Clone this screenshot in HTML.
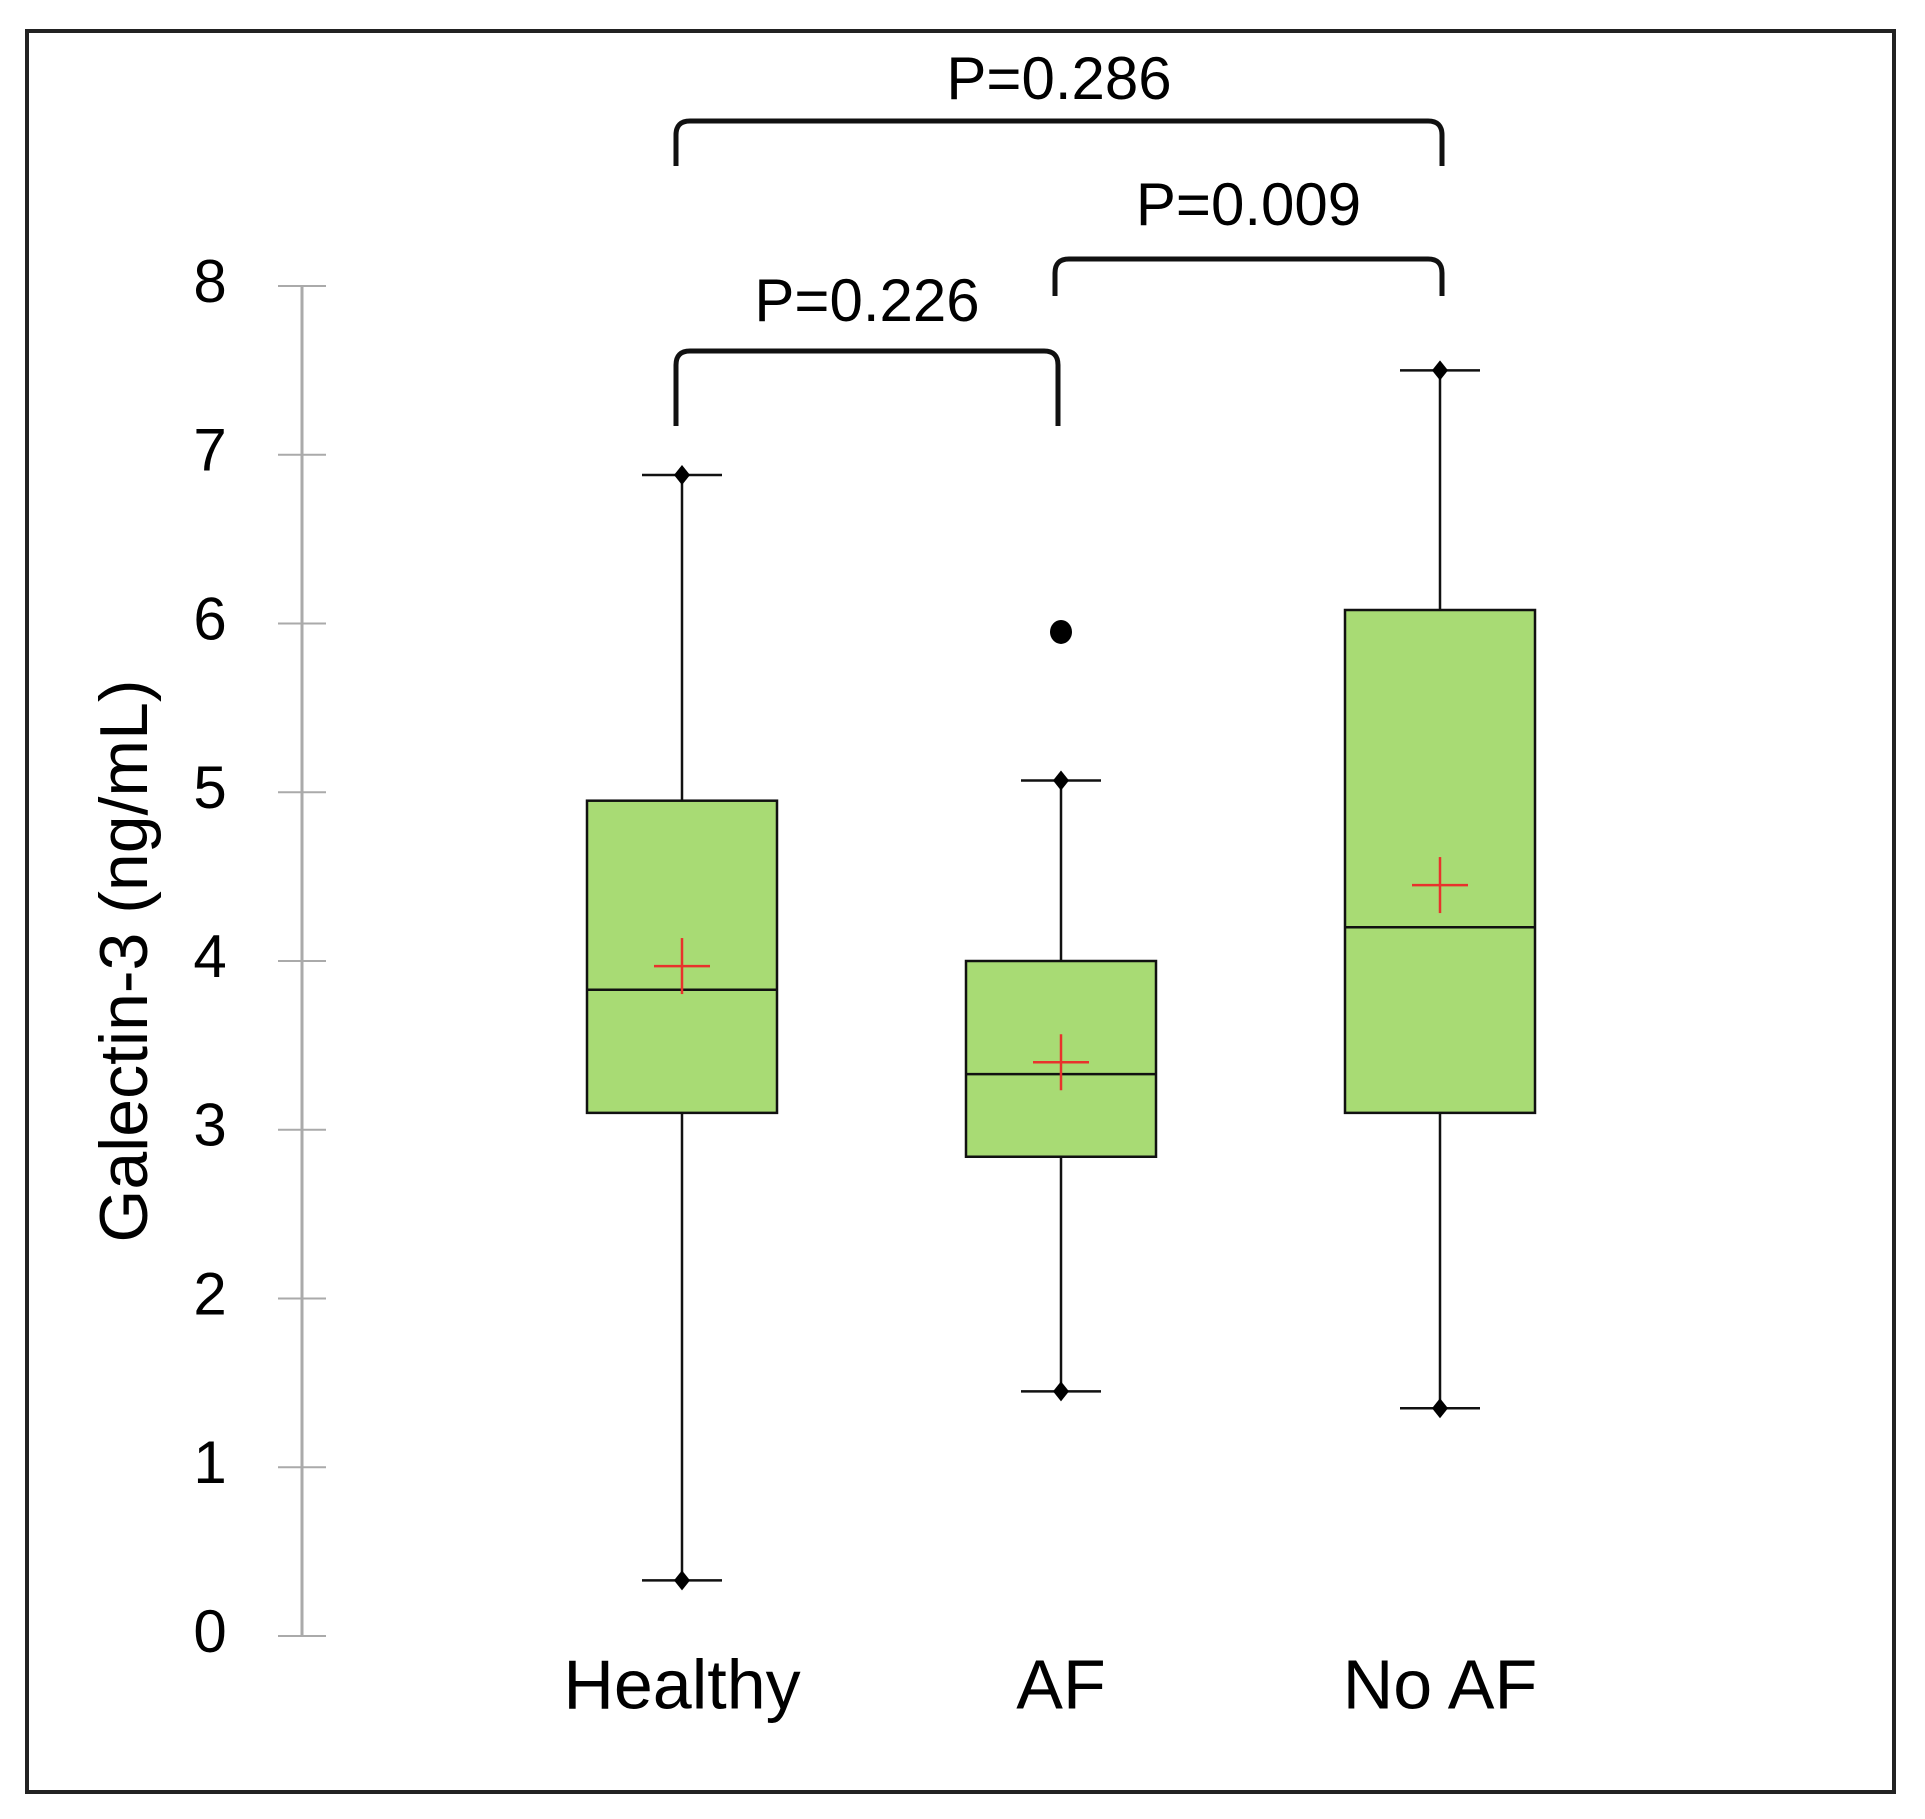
<!DOCTYPE html>
<html><head><meta charset="utf-8"><style>
html,body{margin:0;padding:0;background:#fff;}
svg{display:block;}
text{font-family:"Liberation Sans","DejaVu Sans",sans-serif;fill:#000;}
</style></head><body>
<svg id="chart" width="1925" height="1819" viewBox="0 0 1925 1819">
<rect x="27" y="31" width="1867" height="1761" fill="#fff" stroke="#222" stroke-width="4"/>
<g id="axis"></g>
<g id="boxes"></g>
<g id="brackets"></g>
<text x="129" y="961" font-size="68" text-anchor="middle" dominant-baseline="middle" transform="rotate(-90 129 961)">Galectin-3 (ng/mL)</text>
</svg>
<script>
const categories = ["Healthy", "AF", "No AF"];
const whiskerMax = [6.88, 5.07, 7.5];
const q3Values = [4.95, 4.0, 6.08];
const medians = [3.83, 3.33, 4.2];
const q1Values = [3.1, 2.84, 3.1];
const whiskerMin = [0.33, 1.45, 1.35];
const means = [3.97, 3.4, 4.45];
const outliers = [[], [5.95], []];
const yTicks = [0, 1, 2, 3, 4, 5, 6, 7, 8];
const pLabels = ["P=0.286", "P=0.009", "P=0.226"];
const pFrom = [0, 1, 0];
const pTo = [2, 2, 1];

const NS = "http://www.w3.org/2000/svg";
const y = v => 1636 - v * 168.75;
const x = i => 682 + i * 379;
function mk(tag, attrs, parent, text) {
  const e = document.createElementNS(NS, tag);
  for (const k in attrs) e.setAttribute(k, attrs[k]);
  if (text !== undefined) e.textContent = text;
  parent.appendChild(e);
  return e;
}
const axis = document.getElementById("axis");
const boxes = document.getElementById("boxes");
const brackets = document.getElementById("brackets");

let al = mk("line", {x1: 302, x2: 302, y1: y(8), y2: y(0), stroke: "#aaa", "stroke-width": 3}, axis);


yTicks.forEach(t => {
  const tl = mk("line", {x1: 278, x2: 326, y1: y(t), y2: y(t), stroke: "#aaa", "stroke-width": 2}, axis);
  
  
  const tx = mk("text", {x: 210, y: y(t), "font-size": 60, "text-anchor": "middle", "dominant-baseline": "middle"}, axis, String(t));
  
  
});

categories.forEach((c, i) => {
  const cx = x(i), hw = 95;
  const g = mk("g", {}, boxes);
  
  
  mk("line", {x1: cx, x2: cx, y1: y(whiskerMax[i]), y2: y(whiskerMin[i]), stroke: "#111", "stroke-width": 2.5}, g);
  [whiskerMax[i], whiskerMin[i]].forEach(v => {
    mk("line", {x1: cx - 40, x2: cx + 40, y1: y(v), y2: y(v), stroke: "#111", "stroke-width": 2.5}, g);
    mk("polygon", {points: `${cx},${y(v) - 10} ${cx + 8},${y(v)} ${cx},${y(v) + 10} ${cx - 8},${y(v)}`, fill: "#000"}, g);
  });
  mk("rect", {x: cx - hw, y: y(q3Values[i]), width: hw * 2, height: y(q1Values[i]) - y(q3Values[i]), fill: "#a8db74", stroke: "#111", "stroke-width": 2.5}, g);
  mk("line", {x1: cx - hw, x2: cx + hw, y1: y(medians[i]), y2: y(medians[i]), stroke: "#111", "stroke-width": 2.5}, g);
  const my = y(means[i]);
  mk("line", {x1: cx - 28, x2: cx + 28, y1: my, y2: my, stroke: "#e8322c", "stroke-width": 2.5}, g);
  mk("line", {x1: cx, x2: cx, y1: my - 28, y2: my + 28, stroke: "#e8322c", "stroke-width": 2.5}, g);
  outliers[i].forEach(v => {
    const o = mk("ellipse", {cx: cx, cy: y(v), rx: 11, ry: 12, fill: "#000"}, g);
    
    
  });
  const lb = mk("text", {x: cx, y: 1690, "font-size": 70, "text-anchor": "middle", "dominant-baseline": "middle"}, boxes, c);
  
  
});

const bTop = [121, 259, 351];
const bBot = [166, 296, 426];
const lblY = [83, 209, 305];
pLabels.forEach((p, k) => {
  const x1 = x(pFrom[k]) - 6, x2 = x(pTo[k]) + (pTo[k] === 1 ? -3 : 2);
  const t = bTop[k], b = bBot[k];
  const path = mk("path", {d: `M${x1},${b} L${x1},${t + 14} Q${x1},${t} ${x1 + 14},${t} L${x2 - 14},${t} Q${x2},${t} ${x2},${t + 14} L${x2},${b}`, fill: "none", stroke: "#111", "stroke-width": 5}, brackets);
  
  
  const tx = mk("text", {x: (x1 + x2) / 2, y: lblY[k], "font-size": 60, "text-anchor": "middle", "dominant-baseline": "middle"}, brackets, p);
  
  
});
</script>
</body></html>
